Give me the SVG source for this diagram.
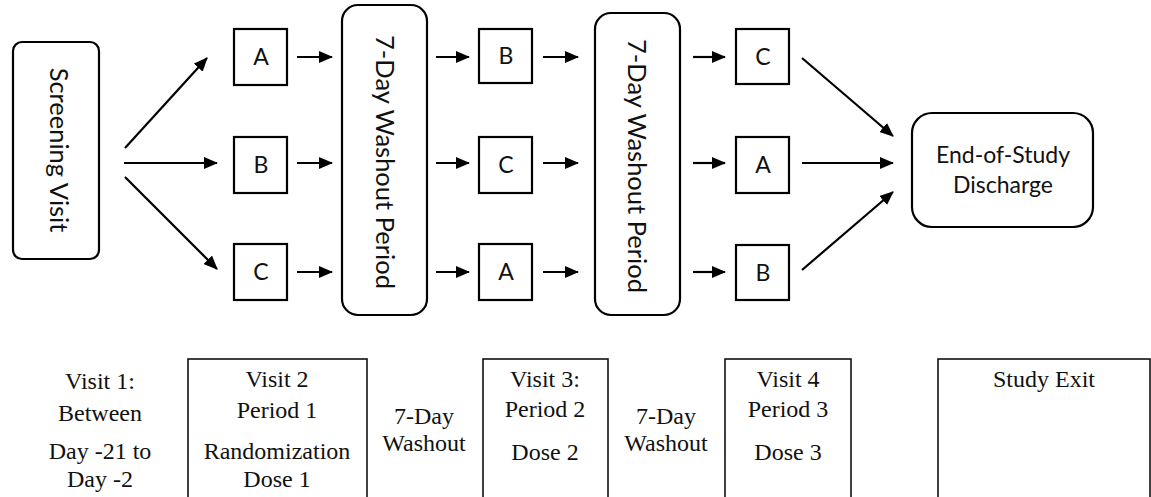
<svg xmlns="http://www.w3.org/2000/svg" width="1151" height="497" viewBox="0 0 1151 497">
<style>
.box{fill:#fff;stroke:#000;stroke-width:2.2}
.tb{fill:none;stroke:#111;stroke-width:1.6}
.t{font-family:Lato,"Liberation Sans",sans-serif;font-size:23px;fill:#111;text-anchor:middle}
.r{font-size:25.5px}
.s{font-family:"Liberation Serif",serif;font-size:24px;fill:#111;text-anchor:middle}
.c line{stroke:#000;stroke-width:2.2}
</style>
<defs>
<marker id="ah" markerUnits="userSpaceOnUse" markerWidth="14" markerHeight="12" refX="13" refY="6" orient="auto">
<path d="M0,0 L14,6 L0,12 z" fill="#000"/>
</marker>
</defs>
<rect width="1151" height="497" fill="#fff"/>
<g id="screening">
<rect class="box" x="13" y="42" width="86" height="217" rx="9"/>
<text class="t r" transform="translate(50,150) rotate(90)">Screening Visit</text>
</g>
<g id="p1a"><rect class="box" x="234" y="29" width="53" height="56"/><text class="t" x="261" y="65">A</text></g>
<g id="p1b"><rect class="box" x="234" y="137" width="53" height="56"/><text class="t" x="261" y="173">B</text></g>
<g id="p1c"><rect class="box" x="234" y="244" width="53" height="56"/><text class="t" x="261" y="280">C</text></g>
<g id="washout1">
<rect class="box" x="342" y="5" width="85" height="310" rx="16"/>
<text class="t r" transform="translate(376,162) rotate(90)">7-Day Washout Period</text>
</g>
<g id="p2b"><rect class="box" x="479" y="29" width="53" height="54"/><text class="t" x="506" y="64">B</text></g>
<g id="p2c"><rect class="box" x="479" y="137" width="53" height="56"/><text class="t" x="506" y="173">C</text></g>
<g id="p2a"><rect class="box" x="479" y="244" width="53" height="56"/><text class="t" x="506" y="280">A</text></g>
<g id="washout2">
<rect class="box" x="595" y="13" width="85" height="302" rx="16"/>
<text class="t r" transform="translate(628,166) rotate(90)">7-Day Washout Period</text>
</g>
<g id="p3c"><rect class="box" x="736" y="29" width="53" height="55"/><text class="t" x="763" y="65">C</text></g>
<g id="p3a"><rect class="box" x="736" y="137" width="53" height="56"/><text class="t" x="763" y="173">A</text></g>
<g id="p3b"><rect class="box" x="736" y="245" width="53" height="55"/><text class="t" x="763" y="281">B</text></g>
<g id="end">
<rect class="box" x="912" y="113" width="181" height="114" rx="20"/>
<text class="t" x="1003" y="163">End-of-Study</text>
<text class="t" x="1003" y="193">Discharge</text>
</g>
<g id="connectors" class="c">
<line x1="125" y1="148" x2="207" y2="58" marker-end="url(#ah)"/>
<line x1="124" y1="163" x2="217" y2="163" marker-end="url(#ah)"/>
<line x1="125" y1="177" x2="217" y2="269" marker-end="url(#ah)"/>
<line x1="297" y1="57" x2="332" y2="57" marker-end="url(#ah)"/>
<line x1="297" y1="163" x2="332" y2="163" marker-end="url(#ah)"/>
<line x1="297" y1="272" x2="332" y2="272" marker-end="url(#ah)"/>
<line x1="436" y1="57" x2="469" y2="57" marker-end="url(#ah)"/>
<line x1="436" y1="163" x2="469" y2="163" marker-end="url(#ah)"/>
<line x1="436" y1="272" x2="469" y2="272" marker-end="url(#ah)"/>
<line x1="543" y1="57" x2="578" y2="57" marker-end="url(#ah)"/>
<line x1="543" y1="163" x2="578" y2="163" marker-end="url(#ah)"/>
<line x1="543" y1="272" x2="578" y2="272" marker-end="url(#ah)"/>
<line x1="693" y1="57" x2="725" y2="57" marker-end="url(#ah)"/>
<line x1="693" y1="163" x2="725" y2="163" marker-end="url(#ah)"/>
<line x1="693" y1="272" x2="725" y2="272" marker-end="url(#ah)"/>
<line x1="802" y1="58" x2="893" y2="136" marker-end="url(#ah)"/>
<line x1="802" y1="163" x2="893" y2="163" marker-end="url(#ah)"/>
<line x1="802" y1="270" x2="893" y2="192" marker-end="url(#ah)"/>
</g>
<g id="visit1">
<text class="s" x="100" y="389">Visit 1:</text>
<text class="s" x="100" y="421">Between</text>
<text class="s" x="100" y="459">Day -21 to</text>
<text class="s" x="100" y="487">Day -2</text>
</g>
<g id="visit2">
<rect class="tb" x="188" y="359" width="179" height="150"/>
<text class="s" x="277" y="387">Visit 2</text>
<text class="s" x="277" y="418">Period 1</text>
<text class="s" x="277" y="459">Randomization</text>
<text class="s" x="277" y="487">Dose 1</text>
</g>
<g id="washoutLabel1">
<text class="s" x="424" y="424">7-Day</text>
<text class="s" x="424" y="451">Washout</text>
</g>
<g id="visit3">
<rect class="tb" x="483" y="359" width="125" height="150"/>
<text class="s" x="545" y="387">Visit 3:</text>
<text class="s" x="545" y="417">Period 2</text>
<text class="s" x="545" y="460">Dose 2</text>
</g>
<g id="washoutLabel2">
<text class="s" x="666" y="424">7-Day</text>
<text class="s" x="666" y="451">Washout</text>
</g>
<g id="visit4">
<rect class="tb" x="725" y="359" width="126" height="150"/>
<text class="s" x="788" y="387">Visit 4</text>
<text class="s" x="788" y="417">Period 3</text>
<text class="s" x="788" y="460">Dose 3</text>
</g>
<g id="exit">
<rect class="tb" x="938" y="359" width="212" height="150"/>
<text class="s" x="1044" y="387">Study Exit</text>
</g>
</svg>
